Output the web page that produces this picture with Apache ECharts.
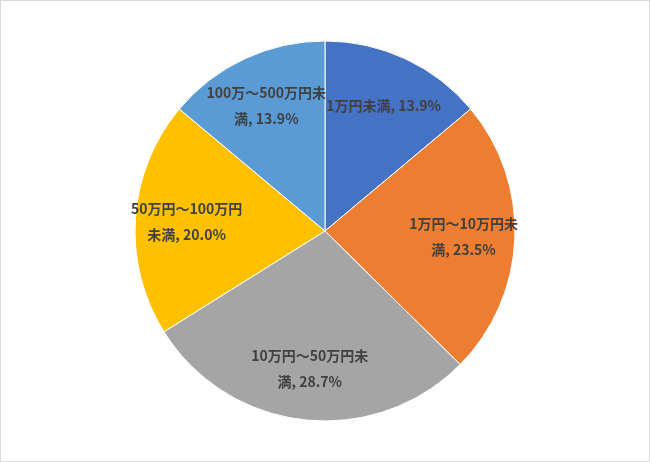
<!DOCTYPE html>
<html>
<head>
<meta charset="utf-8">
<script src="https://cdn.jsdelivr.net/npm/echarts@6/dist/echarts.min.js"></script>
<style>
  html, body { margin: 0; padding: 0; background: #fff; }
  #main { width: 648px; height: 460px; border: 1px solid #d9d9d9; }
</style>
</head>
<body>
<div id="main"></div>
<script>
var categories = ['1万円未満', '1万円～10万円未満', '10万円～50万円未満', '50万円～100万円未満', '100万～500万円未満'];
var shares = [13.9, 23.5, 28.7, 20.0, 13.9];
var colors = ['#4472C4', '#ED7D31', '#A5A5A5', '#FFC000', '#5B9BD5'];

var myChart = echarts.init(document.getElementById('main'));

var radius = 190;
var total = shares.reduce(function (a, b) { return a + b; }, 0);

// push the inside labels out along the slice's middle angle
function labelPos(idx) {
    var before = 0;
    for (var i = 0; i < idx; i++) before += shares[i];
    var mid = (before + shares[idx] / 2) / total * Math.PI * 2;
    var r = radius * 0.73;
    return {
        x: myChart.getWidth() / 2 + Math.sin(mid) * r,
        y: myChart.getHeight() / 2 - Math.cos(mid) * r
    };
}

var option = {
    animation: false,
    series: [{
        type: 'pie',
        center: ['50%', '50%'],
        radius: radius,
        startAngle: 90,
        clockwise: true,
        data: categories.map(function (name, i) {
            return { name: name, value: shares[i], itemStyle: { color: colors[i] } };
        }),
        itemStyle: { borderColor: '#fff', borderWidth: 1 },
        label: {
            position: 'inside',
            formatter: function (p) { return p.name + ', ' + p.value.toFixed(1) + '%'; },
            color: '#404040',
            fontFamily: 'Noto Sans CJK JP',
            fontWeight: 'bold',
            fontSize: 14,
            lineHeight: 26,
            width: 122,
            overflow: 'break',
            align: 'center'
        },
        labelLine: { show: false },
        labelLayout: function (params) {
            return labelPos(params.dataIndex);
        }
    }]
};
myChart.setOption(option);
</script>
</body>
</html>
